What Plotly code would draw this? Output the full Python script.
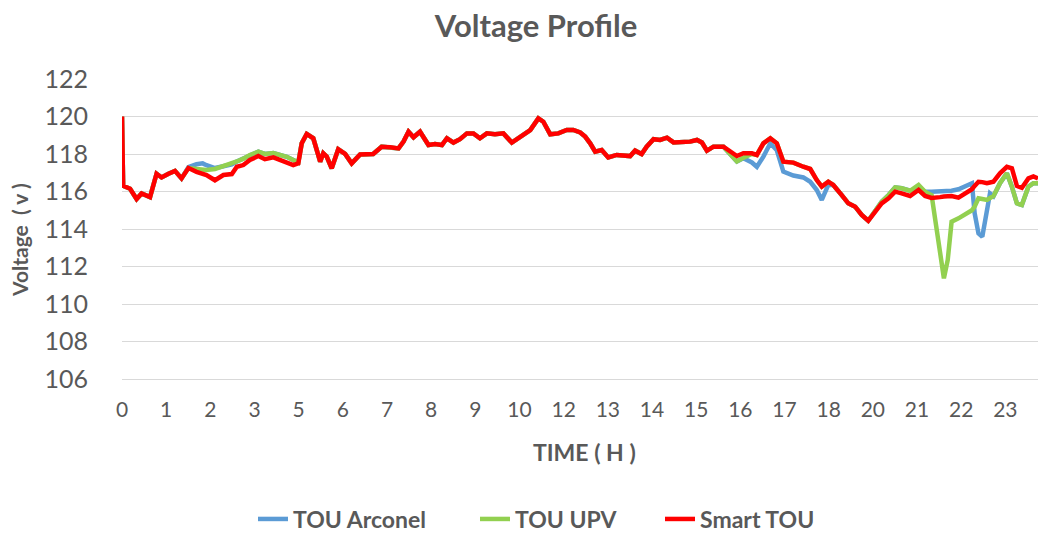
import plotly.graph_objects as go

# Sample times (hours of the day)
hours = [
    0.0, 0.03, 0.21, 0.38, 0.51, 0.73, 0.9, 1.03, 1.21, 1.38,
    1.55, 1.73, 1.94, 2.1, 2.2, 2.42, 2.64, 2.86, 2.99, 3.16,
    3.33, 3.55, 3.72, 3.94, 4.11, 4.29, 4.46, 4.59, 4.68, 4.81,
    4.98, 5.16, 5.24, 5.33, 5.46, 5.63, 5.81, 5.98, 6.2, 6.54,
    6.76, 6.98, 7.2, 7.33, 7.46, 7.59, 7.76, 7.98, 8.15, 8.33,
    8.46, 8.63, 8.8, 8.98, 9.15, 9.32, 9.5, 9.71, 9.93, 10.15,
    10.36, 10.63, 10.84, 10.97, 11.15, 11.36, 11.58, 11.75, 11.93, 12.06,
    12.19, 12.32, 12.49, 12.66, 12.88, 13.1, 13.23, 13.36, 13.53, 13.66,
    13.84, 14.01, 14.19, 14.36, 14.62, 14.79, 14.97, 15.1, 15.23, 15.4,
    15.66, 15.83, 16.01, 16.18, 16.4, 16.53, 16.7, 16.88, 17.05, 17.22,
    17.48, 17.74, 17.92, 18.09, 18.22, 18.39, 18.52, 18.74, 18.91, 19.09,
    19.26, 19.43, 19.61, 19.78, 19.96, 20.13, 20.3, 20.52, 20.74, 20.91,
    21.08, 21.2, 21.3, 21.4, 21.5, 21.6, 21.78, 21.95, 22.13, 22.2,
    22.3, 22.4, 22.52, 22.6, 22.69, 22.86, 23.04, 23.17, 23.3, 23.43,
    23.6, 23.73, 23.85,
]

# Voltage (V) per tariff scheme
tou_arconel = [
    120.0, 116.3, 116.15, 115.6, 115.9, 115.7, 116.95, 116.75, 116.95, 117.1,
    116.7, 117.3, 117.45, 117.5, 117.4, 117.25, 117.35, 117.45, 117.6, 117.75,
    117.95, 118.12, 118.0, 118.05, 117.95, 117.85, 117.68, 117.55, 118.57, 119.07,
    118.84, 117.59, 118.04, 117.86, 117.24, 118.25, 118.0, 117.5, 117.98, 118.0,
    118.39, 118.36, 118.3, 118.66, 119.19, 118.89, 119.19, 118.48, 118.53, 118.48,
    118.84, 118.61, 118.79, 119.1, 119.1, 118.84, 119.1, 119.05, 119.1, 118.61,
    118.93, 119.28, 119.9, 119.72, 119.05, 119.1, 119.28, 119.28, 119.15, 118.93,
    118.57, 118.12, 118.21, 117.82, 117.95, 117.95, 117.89, 118.18, 118.0, 118.39,
    118.79, 118.75, 118.87, 118.62, 118.62, 118.66, 118.75, 118.61, 118.18, 118.39,
    118.39, 118.0, 117.6, 117.77, 117.55, 117.32, 117.86, 118.57, 118.2, 117.06,
    116.85, 116.75, 116.52, 116.08, 115.55, 116.35, 116.35, 115.81, 115.37, 115.19,
    114.75, 114.44, 114.93, 115.45, 115.81, 116.22, 116.17, 116.04, 116.2, 115.99,
    115.99, 115.99, 116.0, 116.04, 116.04, 116.04, 116.12, 116.3, 116.44, 114.84,
    113.77, 113.59, 114.84, 115.9, 115.75, 116.44, 116.97, 116.26, 115.37, 115.28,
    116.26, 116.44, 116.44,
]

tou_upv = [
    120.0, 116.3, 116.15, 115.6, 115.9, 115.7, 116.95, 116.75, 116.95, 117.1,
    116.7, 117.25, 117.2, 117.15, 117.15, 117.2, 117.35, 117.45, 117.6, 117.75,
    117.95, 118.12, 118.0, 118.05, 117.95, 117.85, 117.68, 117.55, 118.57, 119.07,
    118.84, 117.59, 118.04, 117.86, 117.24, 118.25, 118.0, 117.5, 117.98, 118.0,
    118.39, 118.36, 118.3, 118.66, 119.19, 118.89, 119.19, 118.48, 118.53, 118.48,
    118.84, 118.61, 118.79, 119.1, 119.1, 118.84, 119.1, 119.05, 119.1, 118.61,
    118.93, 119.28, 119.9, 119.72, 119.05, 119.1, 119.28, 119.28, 119.15, 118.93,
    118.57, 118.12, 118.21, 117.82, 117.95, 117.95, 117.89, 118.18, 118.0, 118.39,
    118.79, 118.75, 118.87, 118.62, 118.62, 118.66, 118.75, 118.61, 118.18, 118.39,
    118.39, 118.0, 117.6, 117.8, 118.0, 117.95, 118.57, 118.84, 118.57, 117.59,
    117.54, 117.32, 117.2, 116.61, 116.26, 116.52, 116.35, 115.81, 115.37, 115.19,
    114.75, 114.44, 114.93, 115.45, 115.81, 116.22, 116.17, 116.04, 116.35, 115.99,
    115.8, 114.13, 112.35, 111.37, 112.35, 114.39, 114.57, 114.8, 115.0, 115.2,
    115.64, 115.6, 115.55, 115.65, 115.75, 116.44, 116.97, 116.26, 115.37, 115.28,
    116.26, 116.44, 116.44,
]

smart_tou = [
    120.0, 116.3, 116.15, 115.6, 115.9, 115.7, 116.95, 116.75, 116.95, 117.1,
    116.7, 117.25, 117.05, 116.95, 116.88, 116.6, 116.88, 116.93, 117.32, 117.41,
    117.68, 117.89, 117.72, 117.82, 117.68, 117.59, 117.41, 117.5, 118.57, 119.07,
    118.84, 117.59, 118.04, 117.86, 117.24, 118.25, 118.0, 117.5, 117.98, 118.0,
    118.39, 118.36, 118.3, 118.66, 119.19, 118.89, 119.19, 118.48, 118.53, 118.48,
    118.84, 118.61, 118.79, 119.1, 119.1, 118.84, 119.1, 119.05, 119.1, 118.61,
    118.93, 119.28, 119.9, 119.72, 119.05, 119.1, 119.28, 119.28, 119.15, 118.93,
    118.57, 118.12, 118.21, 117.82, 117.95, 117.95, 117.89, 118.18, 118.0, 118.39,
    118.79, 118.75, 118.87, 118.62, 118.62, 118.66, 118.75, 118.61, 118.18, 118.39,
    118.39, 118.12, 117.89, 118.04, 118.04, 117.95, 118.57, 118.84, 118.57, 117.59,
    117.54, 117.32, 117.2, 116.61, 116.26, 116.52, 116.35, 115.81, 115.37, 115.19,
    114.75, 114.44, 114.93, 115.37, 115.64, 115.99, 115.9, 115.76, 116.08, 115.76,
    115.66, 115.65, 115.7, 115.73, 115.75, 115.76, 115.67, 115.9, 116.12, 116.3,
    116.52, 116.5, 116.44, 116.48, 116.52, 116.97, 117.32, 117.24, 116.3, 116.2,
    116.7, 116.8, 116.7,
]

# Category-style hour labels, one every 1.15 h
tick_labels = ["0", "1", "2", "3", "5", "6", "7", "8", "9", "10", "12",
               "13", "14", "15", "16", "17", "18", "20", "21", "22", "23"]
tick_interval_h = 1.15
y_ticks = [106, 108, 110, 112, 114, 116, 118, 120, 122]

series_names = ["TOU Arconel", "TOU UPV", "Smart TOU"]
series_values = [tou_arconel, tou_upv, smart_tou]
series_colors = ["#5B9BD5", "#92D050", "#FF0000"]
legend_ids = ["legend", "legend2", "legend3"]
legend_text_x = [293, 515, 700]   # left edge of each legend label, px

W, H = 1038, 534
L, R, T, B = 122, 0, 79, 145
Y_MIN, Y_MAX = 105.467, 122
GREY = "#595959"
FONT = "Lato"

fig = go.Figure()
for name, vals, color, lg in zip(series_names, series_values, series_colors, legend_ids):
    fig.add_trace(go.Scatter(
        x=hours, y=vals, mode="lines", name=name, legend=lg,
        line=dict(color=color, width=4.5),
    ))

plot_w = W - L - R
plot_h = H - T - B


def px_to_paper(px, py):
    return (px - L) / plot_w, (H - B - py) / plot_h


ax_y = px_to_paper(20, 240)
ax_x = px_to_paper(584, 452)

legend_layouts = {}
for lg, tx in zip(legend_ids, legend_text_x):
    legend_layouts[lg] = dict(
        orientation="h",
        xref="container", yref="container",
        x=(tx - 40) / W, y=1 - 519 / H, xanchor="left", yanchor="middle",
        font=dict(size=23, color=GREY, family=FONT, weight="bold"),
        bgcolor="rgba(0,0,0,0)", borderwidth=0,
    )

fig.update_layout(
    width=W, height=H,
    margin=dict(l=L, r=R, t=T, b=B, pad=0),
    paper_bgcolor="white", plot_bgcolor="white",
    font=dict(family=FONT, color=GREY),
    title=dict(
        text="<b>Voltage Profile</b>",
        xref="container", yref="container",
        x=536 / W, y=1 - 26 / H, xanchor="center", yanchor="middle",
        font=dict(size=31, color=GREY, family=FONT),
    ),
    showlegend=True,
    xaxis=dict(
        range=[0, 23.85],
        tickvals=[i * tick_interval_h for i in range(len(tick_labels))],
        ticktext=tick_labels,
        showgrid=False, zeroline=False, showline=False,
        ticks="outside", ticklen=2, tickcolor="rgba(0,0,0,0)",
        tickfont=dict(size=21, color=GREY, family=FONT),
    ),
    yaxis=dict(
        range=[Y_MIN, Y_MAX],
        tickvals=y_ticks,
        showgrid=True, gridcolor="#D9D9D9", gridwidth=1,
        zeroline=False, showline=False,
        ticks="outside", ticklen=28, tickcolor="rgba(0,0,0,0)",
        tickfont=dict(size=25, color=GREY, family=FONT),
    ),
    annotations=[
        dict(text="<b>Voltage  ( v )</b>", x=ax_y[0], y=ax_y[1],
             xref="paper", yref="paper", showarrow=False, textangle=-90,
             xanchor="center", yanchor="middle",
             font=dict(size=21, color=GREY, family=FONT)),
        dict(text="<b>TIME ( H )</b>", x=ax_x[0], y=ax_x[1],
             xref="paper", yref="paper", showarrow=False,
             xanchor="center", yanchor="middle",
             font=dict(size=23, color=GREY, family=FONT)),
    ],
    **legend_layouts,
)

fig.write_html("out.html")
